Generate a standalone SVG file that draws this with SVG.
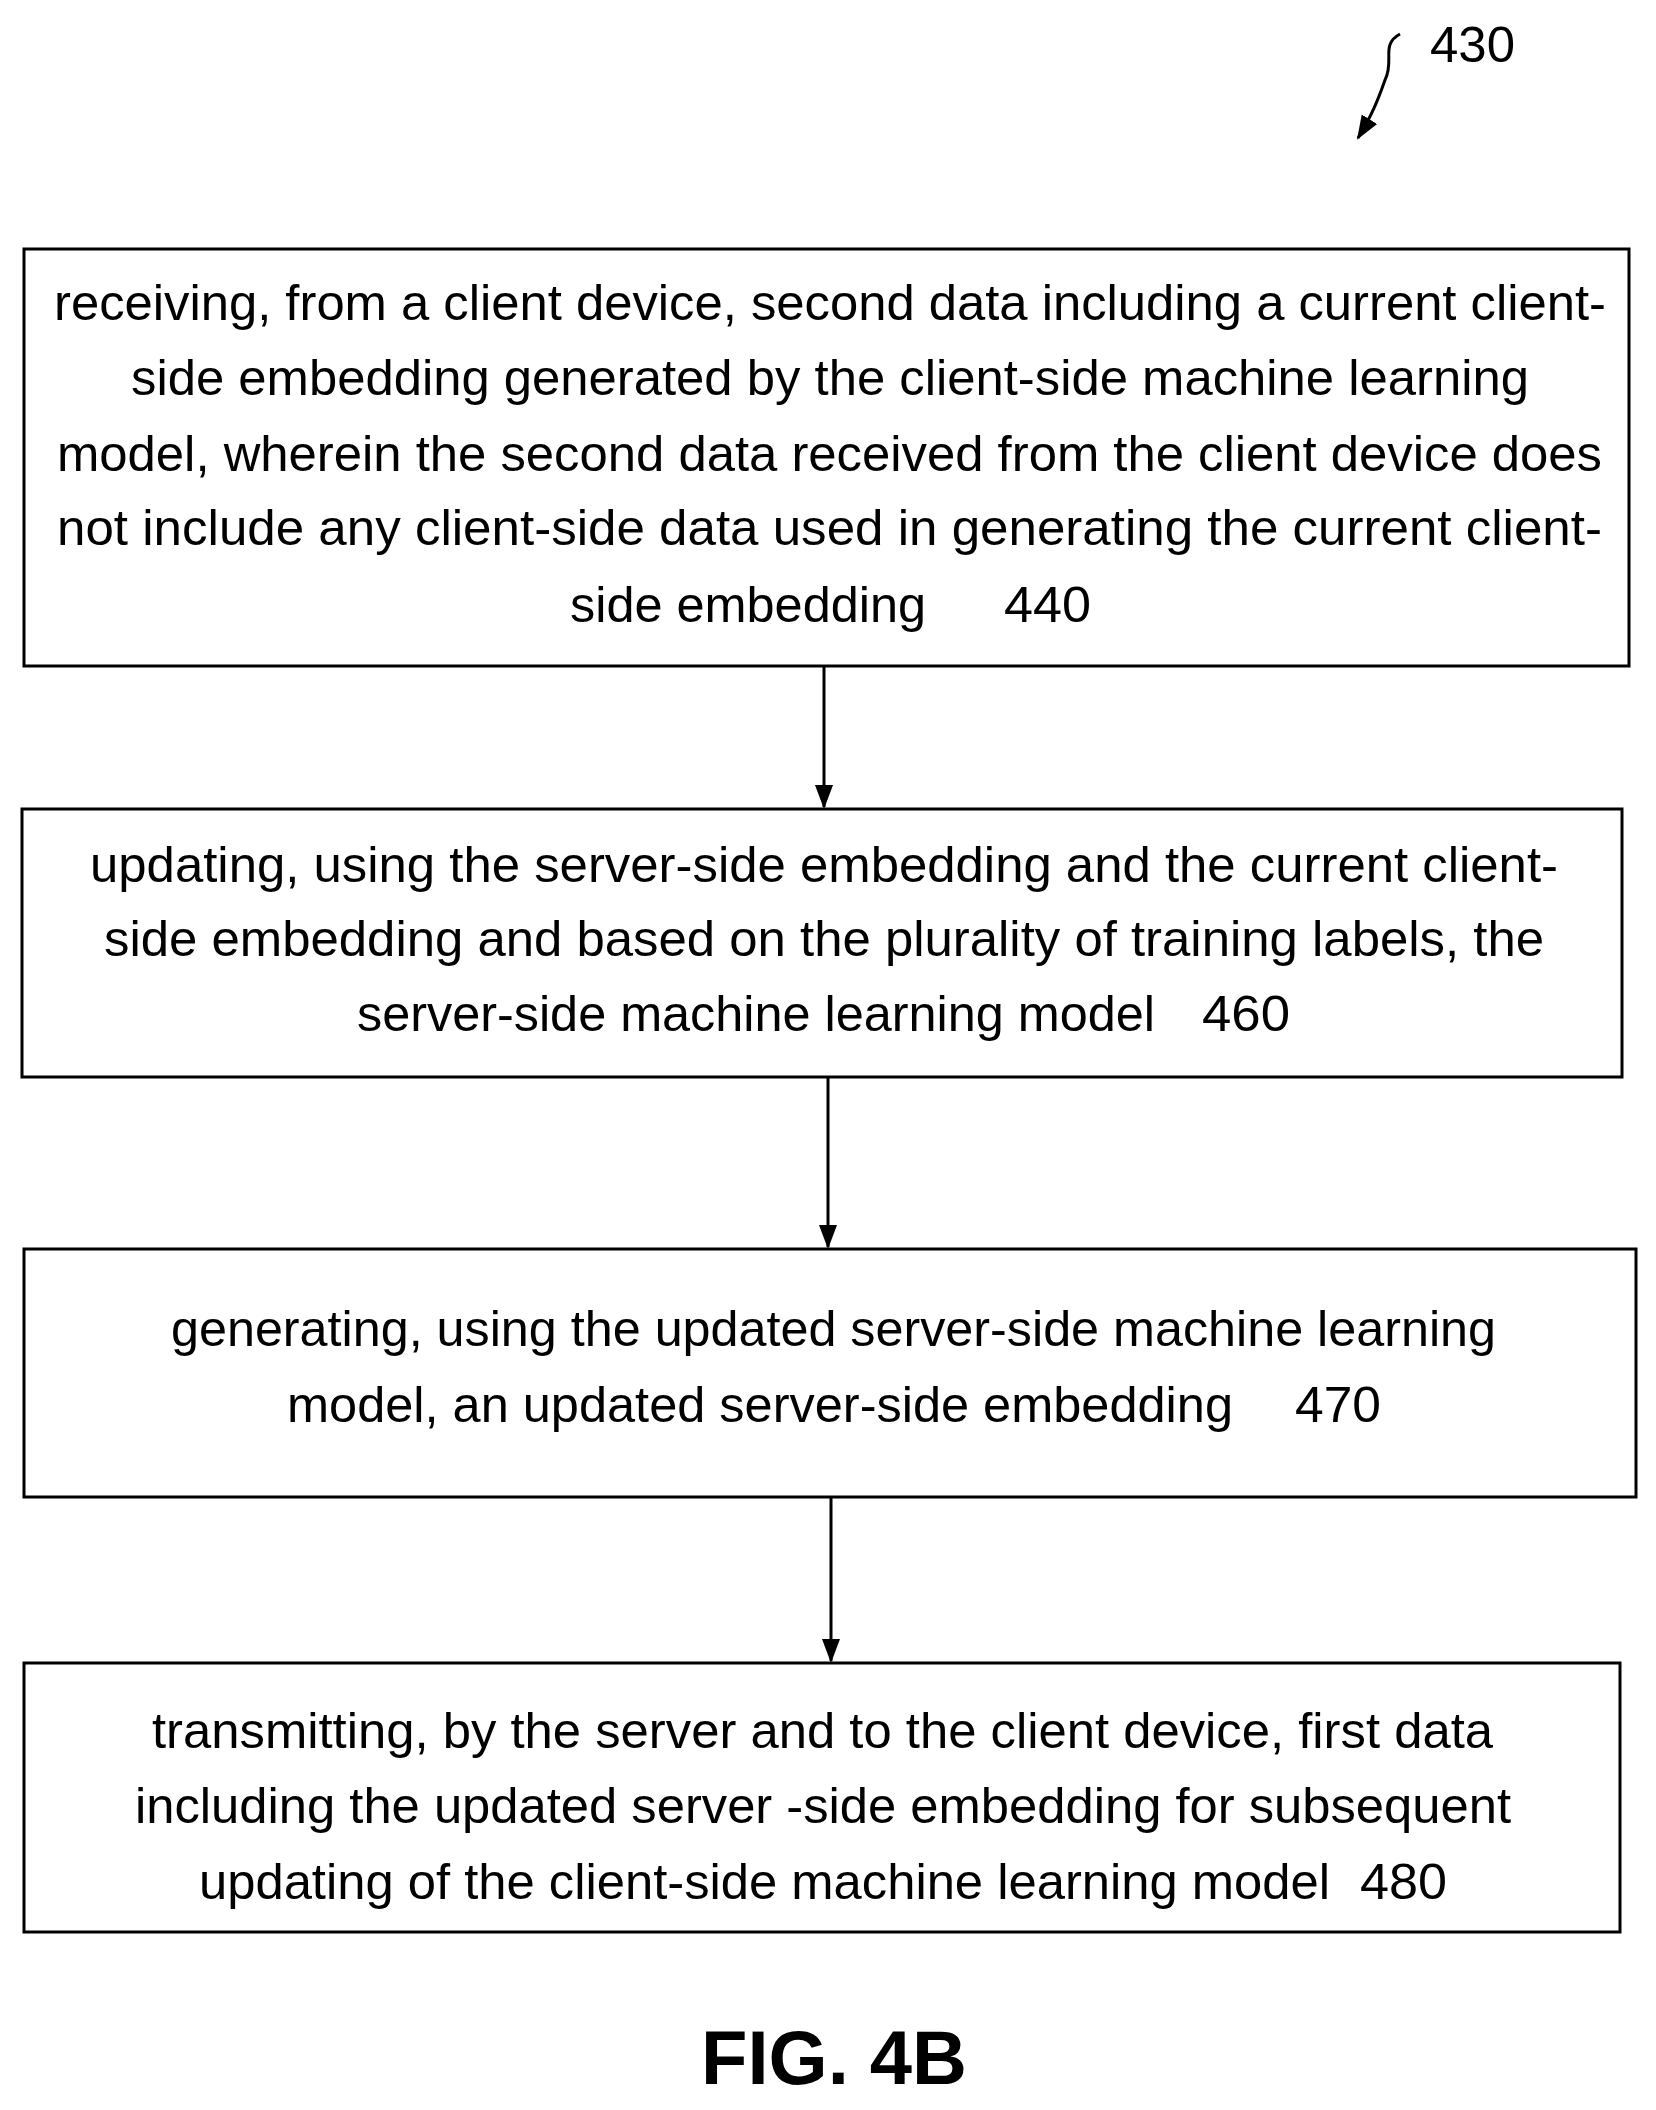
<svg xmlns="http://www.w3.org/2000/svg" width="1656" height="2110" viewBox="0 0 1656 2110">
<style>
.b{fill:#fff;stroke:#000;stroke-width:3}
.t{font-family:"Liberation Sans",Arial,sans-serif;font-size:50px;fill:#000}
.c{stroke:#000;stroke-width:3;fill:none}
</style>
<defs><marker id="ah" markerWidth="10" markerHeight="10" refX="9" refY="5" orient="auto" markerUnits="userSpaceOnUse" viewBox="0 0 10 10"><path d="M0,0 L10,5 L0,10 z" fill="#000"/></marker>
<marker id="a2" markerWidth="24" markerHeight="24" refX="22" refY="12" orient="auto" markerUnits="userSpaceOnUse" viewBox="0 0 24 24"><path d="M0,3 L24,12 L0,21 z" fill="#000"/></marker></defs>
<rect width="1656" height="2110" fill="#fff"/>
<g id="ref430">
<text class="t" x="1430" y="62" textLength="85" lengthAdjust="spacingAndGlyphs">430</text>
<path class="c" d="M1400,34 C1380,45 1395,60 1385,80 C1378,100 1372,115 1358,138" marker-end="url(#a2)"/>
</g>
<g id="n440">
<rect class="b" x="24" y="249" width="1605" height="417"/>
<text class="t" x="54" y="320" textLength="1552" lengthAdjust="spacingAndGlyphs">receiving, from a client device, second data including a current client-</text>
<text class="t" x="131" y="395" textLength="1398" lengthAdjust="spacingAndGlyphs">side embedding generated by the client-side machine learning</text>
<text class="t" x="57" y="471" textLength="1545" lengthAdjust="spacingAndGlyphs">model, wherein the second data received from the client device does</text>
<text class="t" x="57" y="545" textLength="1545" lengthAdjust="spacingAndGlyphs">not include any client-side data used in generating the current client-</text>
<text class="t" x="570" y="622" textLength="356" lengthAdjust="spacingAndGlyphs">side embedding</text>
<text class="t" x="1004" y="622" textLength="87" lengthAdjust="spacingAndGlyphs">440</text>
</g>
<g id="n460">
<rect class="b" x="22" y="809" width="1600" height="268"/>
<text class="t" x="90" y="882" textLength="1468" lengthAdjust="spacingAndGlyphs">updating, using the server-side embedding and the current client-</text>
<text class="t" x="104" y="956" textLength="1440" lengthAdjust="spacingAndGlyphs">side embedding and based on the plurality of training labels, the</text>
<text class="t" x="357" y="1031" textLength="798" lengthAdjust="spacingAndGlyphs">server-side machine learning model</text>
<text class="t" x="1202" y="1031" textLength="88" lengthAdjust="spacingAndGlyphs">460</text>
</g>
<g id="n470">
<rect class="b" x="24" y="1249" width="1612" height="248"/>
<text class="t" x="171" y="1346" textLength="1325" lengthAdjust="spacingAndGlyphs">generating, using the updated server-side machine learning</text>
<text class="t" x="287" y="1422" textLength="946" lengthAdjust="spacingAndGlyphs">model, an updated server-side embedding</text>
<text class="t" x="1295" y="1422" textLength="86" lengthAdjust="spacingAndGlyphs">470</text>
</g>
<g id="n480">
<rect class="b" x="24" y="1663" width="1596" height="269"/>
<text class="t" x="152" y="1748" textLength="1341" lengthAdjust="spacingAndGlyphs">transmitting, by the server and to the client device, first data</text>
<text class="t" x="135" y="1823" textLength="1376" lengthAdjust="spacingAndGlyphs">including the updated server -side embedding for subsequent</text>
<text class="t" x="199" y="1899" textLength="1131" lengthAdjust="spacingAndGlyphs">updating of the client-side machine learning model</text>
<text class="t" x="1360" y="1899" textLength="87" lengthAdjust="spacingAndGlyphs">480</text>
</g>
<g id="connectors">
<line class="c" x1="824" y1="666" x2="824" y2="807" marker-end="url(#a2)"/>
<line class="c" x1="828" y1="1077" x2="828" y2="1247" marker-end="url(#a2)"/>
<line class="c" x1="831" y1="1497" x2="831" y2="1661" marker-end="url(#a2)"/>
</g>
<text x="701" y="2084" font-family="Liberation Sans,Arial,sans-serif" font-weight="bold" font-size="76" textLength="266" lengthAdjust="spacingAndGlyphs">FIG. 4B</text>
</svg>
